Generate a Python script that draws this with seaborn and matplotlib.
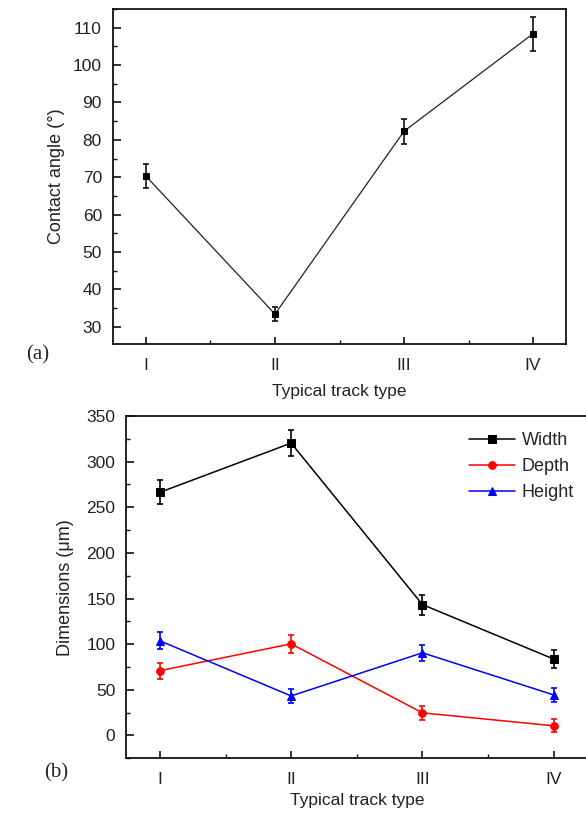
import numpy as np
import pandas as pd
import seaborn as sns
import matplotlib.pyplot as plt
from matplotlib.ticker import MultipleLocator

# data
track_types = ['I', 'II', 'III', 'IV']
track_pos = [1, 2, 3, 4]

contact_angle = [70.3, 33.4, 82.3, 108.4]
contact_err = [3.2, 1.9, 3.4, 4.5]

width = [266.4, 320.3, 143.4, 83.7]
width_err = [13.0, 14.5, 11.0, 10.0]
depth = [71.0, 100.4, 24.8, 10.6]
depth_err = [8.7, 9.8, 7.6, 7.3]
height = [103.7, 43.3, 90.6, 44.4]
height_err = [9.5, 8.0, 8.5, 7.3]

sns.set_theme(style='ticks')
plt.rcParams['font.family'] = ['Liberation Sans', 'DejaVu Sans']
plt.rcParams['axes.linewidth'] = 1.3
plt.rcParams['axes.edgecolor'] = '#111111'

W, H = 586, 813
fig = plt.figure(figsize=(W / 100, H / 100), dpi=100)


def px_axes(x0, y0, x1, y1):
    return fig.add_axes([x0 / W, 1 - y1 / H, (x1 - x0) / W, (y1 - y0) / H])


def style_axes(ax):
    ax.set_xlim(0.745, 4.255)
    ax.set_xticks(track_pos)
    ax.set_xticklabels(track_types)
    ax.xaxis.set_minor_locator(MultipleLocator(0.5))
    ax.tick_params(axis='both', which='both', direction='in', colors='#111111',
                   labelsize=12.5, labelcolor='#222222')
    ax.tick_params(axis='x', which='major', length=5, width=1.2, pad=10)
    ax.tick_params(axis='x', which='minor', length=3, width=1.0)
    ax.tick_params(axis='y', which='major', length=6, width=1.2, pad=8)
    ax.tick_params(axis='y', which='minor', length=3, width=1.0)
    for s in ax.spines.values():
        s.set_visible(True)


# ---- (a) contact angle
ax1 = px_axes(113, 9, 566, 344)
df_a = pd.DataFrame({'pos': track_pos, 'angle': contact_angle})
ax1.errorbar(track_pos, contact_angle, yerr=contact_err, fmt='none',
             color='#111111', ecolor='#111111', elinewidth=1.2, capsize=2.5,
             capthick=1.2, zorder=2)
sns.lineplot(data=df_a, x='pos', y='angle', ax=ax1, color='#222222', lw=0.9,
             marker='s', markersize=4.8, markeredgecolor='black',
             markerfacecolor='black', zorder=3)
style_axes(ax1)
ax1.set_ylim(25.4, 115)
ax1.yaxis.set_major_locator(MultipleLocator(10))
ax1.yaxis.set_minor_locator(MultipleLocator(5))
ax1.set_xlabel('Typical track type', fontsize=12.5, labelpad=8, color='#222222')
ax1.set_ylabel('Contact angle (°)', fontsize=13, labelpad=6, color='#222222')
fig.text(26 / W, 1 - 355 / H, '(a)', fontsize=15, va='center', ha='left',
         family=['Liberation Serif', 'DejaVu Serif'])

# ---- (b) dimensions
ax2 = px_axes(126.4, 416, 587.2, 758.3)
df_b = pd.DataFrame({
    'pos': track_pos * 3,
    'value': width + depth + height,
    'err': width_err + depth_err + height_err,
    'kind': ['Width'] * 4 + ['Depth'] * 4 + ['Height'] * 4,
})
colors = {'Width': '#000000', 'Depth': '#ff0000', 'Height': '#0000ff'}
markers = {'Width': 's', 'Depth': 'o', 'Height': '^'}
for kind, grp in df_b.groupby('kind', sort=False):
    ax2.errorbar(grp['pos'], grp['value'], yerr=grp['err'], fmt='none',
                 color=colors[kind], ecolor=colors[kind], elinewidth=1.2,
                 capsize=2.5, capthick=1.2, zorder=2)
sns.lineplot(data=df_b, x='pos', y='value', hue='kind', style='kind',
             palette=colors, markers=markers, dashes=False, ax=ax2, lw=1.1,
             markersize=5.5, zorder=3)
for line in ax2.lines:
    line.set_markeredgecolor(line.get_color())
style_axes(ax2)
ax2.set_ylim(-25, 350)
ax2.yaxis.set_major_locator(MultipleLocator(50))
ax2.yaxis.set_minor_locator(MultipleLocator(25))
ax2.set_xlabel('Typical track type', fontsize=12.5, labelpad=4, color='#222222')
ax2.set_ylabel('Dimensions (μm)', fontsize=13, labelpad=9, color='#222222')
leg = ax2.legend(loc='upper right', bbox_to_anchor=(0.995, 0.985), frameon=False,
                 fontsize=13, handlelength=2.5, handletextpad=0.4,
                 labelspacing=0.5, borderaxespad=0.2)
for h in leg.legend_handles:
    h.set_markeredgecolor(h.get_color())
    h.set_markersize(5.5)
fig.text(44 / W, 1 - 773 / H, '(b)', fontsize=15, va='center', ha='left',
         family=['Liberation Serif', 'DejaVu Serif'])

fig.savefig('out.png', dpi=100)
